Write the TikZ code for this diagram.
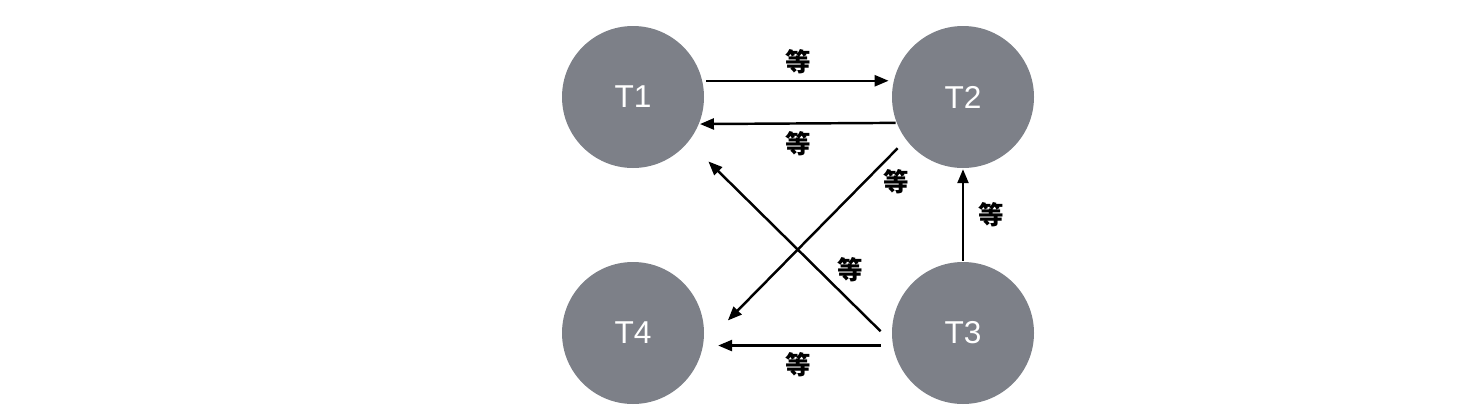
\documentclass[tikz,border=0pt]{standalone}
\usepackage{fontspec}
\setmainfont{Liberation Sans}
\newfontfamily\cjk{Noto Sans CJK SC}
\usetikzlibrary{arrows.meta}
\definecolor{cgrey}{HTML}{7D8088}
\tikzset{
  every picture/.style={line width=1.4pt},
  task/.style={circle, fill=cgrey, draw=none, minimum size=2.84cm, inner sep=0pt,
    text=white, font=\fontsize{18}{21}\selectfont},
  arrow/.style={-{Triangle[length=0.28cm, width=0.22cm]}, draw=black},
  lab/.style={font=\cjk\bfseries\fontsize{14.5}{16}\selectfont, inner sep=2pt},
}

\begin{document}
\begin{tikzpicture}
  \useasboundingbox (0,0) rectangle (29.4,8.36);
  \node[task] (t1) at (12.66,6.42) {T1};
  \node[task] (t2) at (19.26,6.42) {T2};
  \node[task] (t3) at (19.26,1.70) {T3};
  \node[task] (t4) at (12.66,1.70) {T4};
  \draw[arrow, shorten <=0.06cm, shorten >=0.08cm] (t1.13) -- node[lab, above=1pt] {等} (t2.167);
  \draw[arrow] (t2.201.5) -- node[lab, below=2pt] {等} (t1.338.5);
  \draw[arrow, shorten <=0.22cm, shorten >=0.67cm] (t2.217.6) -- node[lab, pos=0.2, right=8pt] {等} (t4.351.3);
  \draw[arrow, shorten <=0.3cm, shorten >=0.54cm] (t3.187.7) -- node[lab, pos=0.36, right=8pt] {等} (t1.321.8);
  \draw[arrow] (t3.90) -- node[lab, right=6pt] {等} (t2.270);
  \draw[arrow, shorten <=0.22cm, shorten >=0.28cm] (t3.190) -- node[lab, below=1pt] {等} (t4.350);
\end{tikzpicture}
\end{document}
